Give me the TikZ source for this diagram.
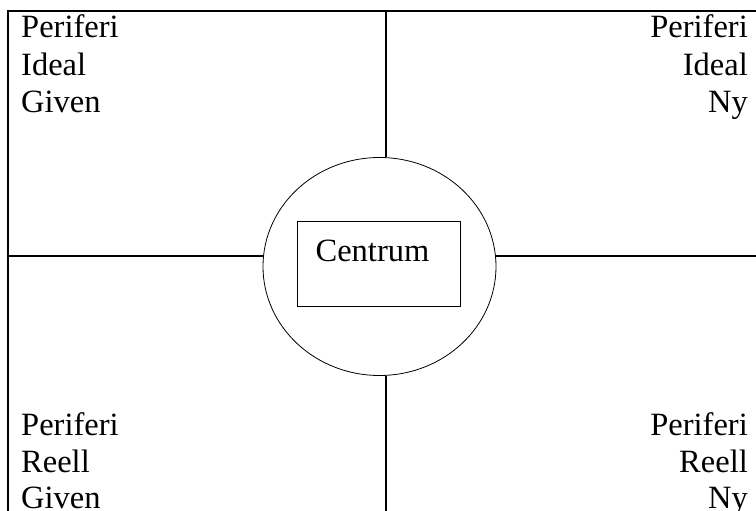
\documentclass[tikz,border=0pt]{standalone}
\usepackage{fontspec}
\setmainfont{Liberation Serif}
\usetikzlibrary{shapes.geometric}
\tikzset{
    lbl/.style={inner sep=0pt,font=\fontsize{32.5}{36}\selectfont},
    axis/.style={line width=2pt}
}
\begin{document}
\begin{tikzpicture}[x=1pt,y=1pt]
        \useasboundingbox (0,0) rectangle (756,-511);
        \clip (0,0) rectangle (756,-511);
        \draw[axis] (8,-11) rectangle (780,-540);
        \node[draw,ellipse,line width=.8pt,inner sep=0pt,minimum width=233,minimum height=218] (core) at (379.5,-266.5) {};
        \node[draw,line width=.8pt,inner sep=0pt,minimum width=163,minimum height=85] (box) at (378.5,-263.5) {};
        \node[lbl,anchor=base] (centrum) at (372.5,-261) {Centrum};
        \coordinate (top) at (386,-11);
        \coordinate (bottom) at (386,-520);
        \coordinate (left) at (8,-256);
        \coordinate (right) at (770,-256);
        \draw[axis] (top)--(top|-core.north);
        \draw[axis] (bottom)--(bottom|-core.south);
        \draw[axis] (left)--(core.west|-left);
        \draw[axis] (right)--(core.east|-right);
        \node[lbl,anchor=base west] (tl1) at (21,-38) {Periferi};
        \node[lbl,anchor=base west] (tl2) at (21,-76) {Ideal};
        \node[lbl,anchor=base west] (tl3) at (21,-113) {Given};
        \node[lbl,anchor=base east] (tr1) at (748,-38) {Periferi};
        \node[lbl,anchor=base east] (tr2) at (748,-76) {Ideal};
        \node[lbl,anchor=base east] (tr3) at (748,-113) {Ny};
        \node[lbl,anchor=base west] (bl1) at (21,-435) {Periferi};
        \node[lbl,anchor=base west] (bl2) at (21,-472) {Reell};
        \node[lbl,anchor=base west] (bl3) at (21,-508) {Given};
        \node[lbl,anchor=base east] (br1) at (748,-435) {Periferi};
        \node[lbl,anchor=base east] (br2) at (748,-472) {Reell};
        \node[lbl,anchor=base east] (br3) at (748,-508) {Ny};
    \end{tikzpicture}
\end{document}
